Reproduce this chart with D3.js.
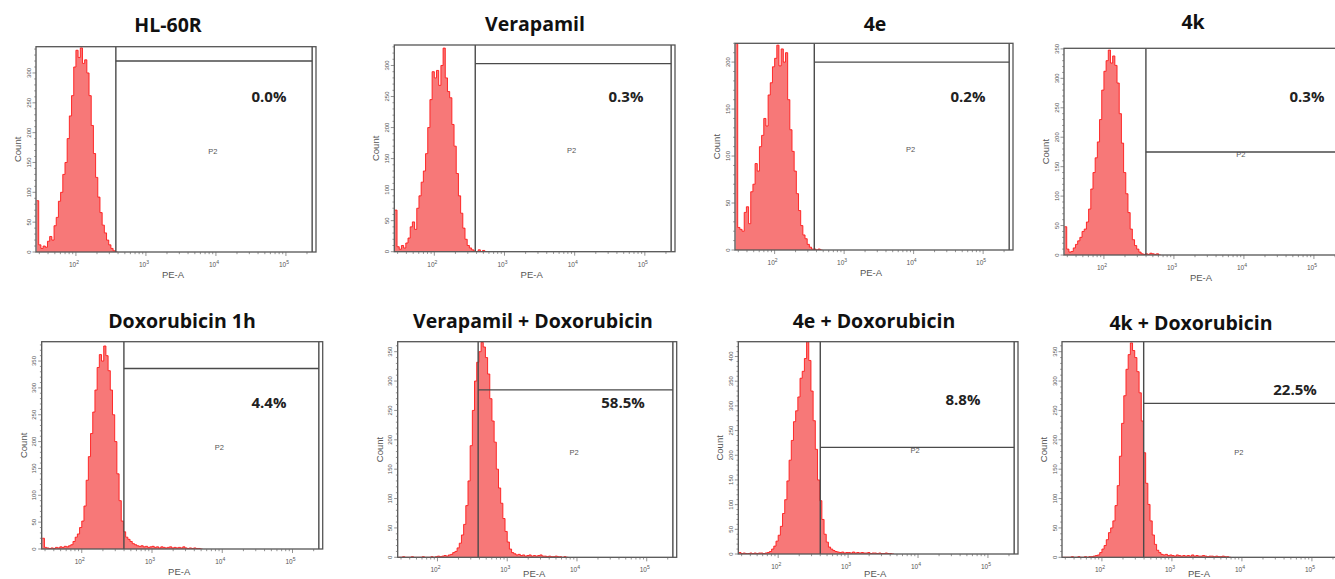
<!DOCTYPE html>
<html><head><meta charset="utf-8">
<script src="https://cdn.jsdelivr.net/npm/d3@7"></script>
<style>body{margin:0;background:#fff;overflow:hidden}</style>
</head><body><svg id="c" width="1335" height="579"></svg>
<script>
// ---------- DATA ----------
const titles = ["HL-60R", "Verapamil", "4e", "4k", "Doxorubicin 1h", "Verapamil + Doxorubicin", "4e + Doxorubicin", "4k + Doxorubicin"];
const percents = ["0.0%", "0.3%", "0.2%", "0.3%", "4.4%", "58.5%", "8.8%", "22.5%"];
const gateName = "P2";
const xTickValues = [1e2, 1e3, 1e4, 1e5];
const xTickExponents = ["2", "3", "4", "5"];
// PE-A histogram bins: log10 start and log10 width of each bin
const binLogStart = 1.4375;
const binLogStep = 0.03125;
// counts per bin
const countsHL60R = [86,12,6,10,8,18,26,20,44,58,85,100,130,150,190,228,262,310,338,326,342,316,322,300,262,212,165,125,92,66,45,32,20,12,6,2,0];
const countsVerapamil = [67,8,4,10,6,14,22,40,48,36,70,90,112,130,158,200,245,290,280,292,268,300,328,280,258,248,205,170,126,90,62,38,20,10,6,3,1,0,3,0,2,0];
const counts4e = [400,24,22,20,40,46,28,62,70,92,84,110,122,140,132,165,178,195,204,218,196,214,200,210,160,128,105,84,60,42,26,16,12,6,3,1,1,0,1,0];
const counts4k = [48,10,5,6,12,18,24,30,40,44,56,78,112,140,165,192,230,280,312,330,348,326,338,322,292,240,190,140,104,72,44,26,16,10,5,2,1,2,1,3,2,1,2,0];
const countsDox = [20,3,2,1,2,1,3,2,4,3,5,4,6,8,14,22,28,40,52,80,128,172,215,255,296,338,362,350,378,360,332,296,250,200,140,90,52,32,22,18,14,10,8,6,5,6,4,5,3,4,5,3,4,2,4,3,2,3,4,2,3,2,3,2,4,2,1,2,1,2,1,1,0];
const countsVerDox = [0,0,1,0,0,0,1,0,0,0,0,1,0,0,0,1,0,1,2,1,2,3,2,4,5,8,10,16,24,38,56,88,130,190,250,300,332,350,366,358,340,312,270,232,196,150,118,92,66,44,26,14,8,6,4,5,3,4,2,3,4,2,3,2,3,4,2,2,1,2,1,1,2,1,1,0,1,0];
const counts4eDox = [3,1,2,1,1,2,1,2,1,2,2,1,2,3,5,10,16,26,38,56,82,110,148,190,230,268,290,318,356,370,396,430,392,330,270,212,150,108,70,40,24,14,10,7,5,4,3,4,2,3,3,2,4,2,3,2,3,2,2,3,1,2,2,1,2,1,1,2,1,1,0];
const counts4kDox = [0,0,0,0,1,0,0,1,0,0,1,0,1,1,2,3,4,8,14,20,30,42,50,62,88,122,172,228,275,320,345,365,352,340,316,280,232,178,126,90,62,38,22,12,8,5,4,5,3,4,3,2,4,3,2,3,2,3,2,4,2,3,2,2,3,2,1,2,2,1,2,1,1,2,1,1,0];
const histograms = [countsHL60R, countsVerapamil, counts4e, counts4k, countsDox, countsVerDox, counts4eDox, counts4kDox];
// axis maxima (Count) and gate settings (PE-A low bound, gate bar level in counts)
const yMax = [344, 333, 220, 351, 386, 367, 430, 367];
const gateLow = [372, 383, 372, 398, 398, 383, 400, 395];
const gateHigh = 237000;
const gateLevel = [320, 303, 200, 175, 336, 285, 216, 262];
const xDomain = [26.9, 269000];

// ---------- LAYOUT ----------
const frames = [
  {x:36, y:46.7, w:280, h:205.3},
  {x:394.3, y:45, w:280.7, h:206.7},
  {x:735, y:43.3, w:278, h:206.7},
  {x:1064, y:48.3, w:280, h:206.7},
  {x:41.7, y:341.7, w:281, h:207.3},
  {x:397.7, y:341.7, w:279, h:215.6},
  {x:738.3, y:341.7, w:279.7, h:212.3},
  {x:1062, y:341.7, w:280, h:215.6}
];
const titlePos = [[168,32],[535,31],[875,31],[1193,29],[182,328],[533,328],[874,328],[1191,330]];
const pctPos = [[269,97],[626,97],[968,97],[1307,97],[269,403],[623,403],[963,400],[1295,390]];

const svg = d3.select("#c");
const FILL = "#f77878", LINE = "#ff1a1a", FRAME = "#555", GATE = "#4a4a4a", TXT = "#555";
const SMALL = "Liberation Sans, Arial, sans-serif";

frames.forEach((f, p) => {
  const g = svg.append("g").attr("transform", `translate(${f.x},${f.y})`);
  const x = d3.scaleLog().domain(xDomain).range([0, f.w]);
  const y = d3.scaleLinear().domain([0, yMax[p]]).range([f.h, 0]);
  const clipId = "clip" + p;
  g.append("clipPath").attr("id", clipId).append("rect").attr("width", f.w).attr("height", f.h);

  const counts = histograms[p];
  const pts = counts.map((c, i) => ({e: Math.pow(10, binLogStart + i * binLogStep), c}));
  pts.push({e: Math.pow(10, binLogStart + counts.length * binLogStep), c: 0});
  const area = d3.area().curve(d3.curveStepAfter).x(d => x(d.e)).y0(y(0)).y1(d => y(d.c));
  const line = d3.line().curve(d3.curveStepAfter).x(d => x(d.e)).y(d => y(d.c));
  const hg = g.append("g").attr("clip-path", `url(#${clipId})`);
  hg.append("path").datum(pts).attr("d", area).attr("fill", FILL);
  hg.append("path").datum(pts).attr("d", line).attr("fill", "none").attr("stroke", LINE).attr("stroke-width", 0.9);

  // gate
  const gl = g.append("g").attr("clip-path", `url(#${clipId})`).attr("stroke", GATE).attr("stroke-width", 1.4);
  gl.append("line").attr("x1", x(gateLow[p])).attr("x2", x(gateLow[p])).attr("y1", 0).attr("y2", f.h);
  gl.append("line").attr("x1", x(gateHigh)).attr("x2", x(gateHigh)).attr("y1", 0).attr("y2", f.h);
  gl.append("line").attr("x1", x(gateLow[p])).attr("x2", x(gateHigh)).attr("y1", y(gateLevel[p])).attr("y2", y(gateLevel[p]));

  // frame
  g.append("rect").attr("width", f.w).attr("height", f.h).attr("fill", "none").attr("stroke", FRAME).attr("stroke-width", 1.3);

  // x axis ticks
  const minor = [];
  for (let e = 1; e <= 5; e++) for (let k = 1; k <= 9; k++) { const v = k * Math.pow(10, e); if (v >= xDomain[0] && v <= xDomain[1]) minor.push(v); }
  g.selectAll(".xm").data(minor).enter().append("line")
    .attr("x1", d => x(d)).attr("x2", d => x(d)).attr("y1", f.h).attr("y2", d => f.h + (xTickValues.includes(d) ? 4 : 2.2))
    .attr("stroke", "#666").attr("stroke-width", 0.7);
  const xl = g.selectAll(".xl").data(xTickValues).enter().append("text")
    .attr("x", d => x(d) - 2).attr("y", f.h + 15).attr("text-anchor", "middle")
    .attr("font-family", SMALL).attr("font-size", 6.5).attr("fill", TXT);
  xl.append("tspan").text("10");
  xl.append("tspan").attr("dy", -3).attr("font-size", 5).text((d, i) => xTickExponents[i]);
  g.append("text").attr("x", f.w * 0.5 - 3).attr("y", Math.min(f.h + 26, 577 - f.y)).attr("text-anchor", "middle")
    .attr("font-family", SMALL).attr("font-size", 9.5).attr("fill", TXT).text("PE-A");

  // y axis ticks
  const yt = d3.range(0, yMax[p] + 0.1, 10);
  g.selectAll(".ym").data(yt).enter().append("line")
    .attr("x1", 0).attr("x2", d => d % 50 === 0 ? -3.5 : -1.8).attr("y1", d => y(d)).attr("y2", d => y(d))
    .attr("stroke", "#666").attr("stroke-width", 0.7);
  g.selectAll(".yl").data(d3.range(0, yMax[p] + 0.1, 50)).enter().append("text")
    .attr("transform", d => `translate(-5.5,${y(d)}) rotate(-90)`).attr("text-anchor", "middle")
    .attr("font-family", SMALL).attr("font-size", 6).attr("fill", TXT).text(d => d);
  g.append("text").attr("transform", `translate(-15,${f.h / 2}) rotate(-90)`).attr("text-anchor", "middle")
    .attr("font-family", SMALL).attr("font-size", 9.5).attr("fill", TXT).text("Count");

  // gate name
  g.append("text").attr("x", f.w * 0.632).attr("y", f.h * 0.51 + 3).attr("text-anchor", "middle")
    .attr("font-family", SMALL).attr("font-size", 7.5).attr("fill", "#555").text(gateName);

  // title & percent
  svg.append("text").attr("x", titlePos[p][0]).attr("y", titlePos[p][1]).attr("text-anchor", "middle")
    .attr("font-family", "Open Sans, Lato, sans-serif").attr("font-weight", "bold").attr("font-size", 19.5).attr("fill", "#111").text(titles[p]);
  svg.append("text").attr("x", pctPos[p][0]).attr("y", pctPos[p][1] + 5).attr("text-anchor", "middle")
    .attr("font-family", "Open Sans, Lato, sans-serif").attr("font-weight", "bold").attr("font-size", 15).attr("fill", "#222").text(percents[p]);
});
</script></body></html>
